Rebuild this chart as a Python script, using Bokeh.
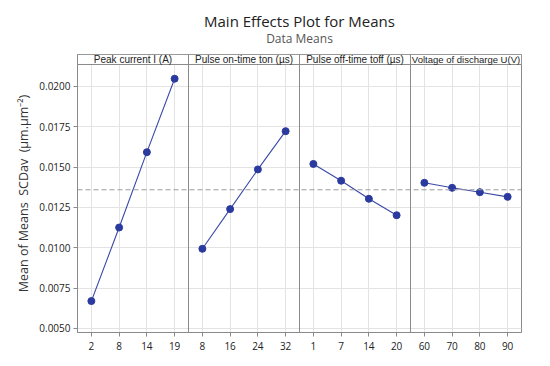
from bokeh.plotting import figure
from bokeh.layouts import column
from bokeh.models import ColumnDataSource, Span, FixedTicker, PrintfTickFormatter, Range1d
from bokeh.core.properties import value
from bokeh.embed import file_html
from bokeh.resources import INLINE

# ---- data ----
title = "Main Effects Plot for Means"
subtitle = "Data Means"
factors = ["Peak current I (A)", "Pulse on-time ton (\u00b5s)", "Pulse off-time toff (\u00b5s)", "Voltage of discharge U(V)"]
peak_levels = ["2", "8", "14", "19"]
peak_means = [0.00670, 0.01126, 0.01593, 0.02048]
ton_levels = ["8", "16", "24", "32"]
ton_means = [0.00994, 0.01240, 0.01486, 0.01723]
toff_levels = ["1", "7", "14", "20"]
toff_means = [0.01520, 0.01416, 0.01304, 0.01202]
volt_levels = ["60", "70", "80", "90"]
volt_means = [0.01403, 0.01372, 0.01345, 0.01316]
y_ticks = [0.0050, 0.0075, 0.0100, 0.0125, 0.0150, 0.0175, 0.0200]

levels = [peak_levels, ton_levels, toff_levels, volt_levels]
means = [peak_means, ton_means, toff_means, volt_means]
header_sizes = ["10px", "10px", "10px", "9.5px"]

all_vals = [v for m in means for v in m]
grand_mean = sum(all_vals) / len(all_vals)

# ---- title strip (its own small figure, SVG text) ----
W = 550
TH = 53
t = figure(width=W, height=TH, output_backend="svg", toolbar_location=None,
           x_range=Range1d(0, W), y_range=Range1d(TH, 0),
           x_axis_type=None, y_axis_type=None,
           min_border=0, min_border_left=0, min_border_right=0, min_border_top=0, min_border_bottom=0)
t.outline_line_color = None
t.xgrid.visible = False
t.ygrid.visible = False
t.text(x=[W / 2], y=[20], text=[title], text_align="center", text_baseline="middle",
       text_font=value("Open Sans"), text_font_size="15px", text_color="#222222")
t.text(x=[W / 2], y=[38], text=[subtitle], text_align="center", text_baseline="middle",
       text_font=value("Open Sans"), text_font_size="12px", text_color="#555555")

# ---- main panel figure ----
n = 4
y_lo, y_hi = 0.004752, 0.021983
header_bottom = 0.021364

p = figure(width=W, height=366 - TH, output_backend="svg", toolbar_location=None,
           x_range=Range1d(-0.5, 4 * n - 0.5), y_range=Range1d(y_lo, y_hi),
           min_border_left=77, min_border_right=29, min_border_top=1, min_border_bottom=34,
           background_fill_color="white", border_fill_color="white")
p.outline_line_color = "#8a8a8a"
p.outline_line_width = 1

p.xgrid.grid_line_color = "#e3e3e3"
p.ygrid.grid_line_color = "#e3e3e3"

xt = []
overrides = {}
for k in range(n):
    for i, lab in enumerate(levels[k]):
        xt.append(4 * k + i)
        overrides[4 * k + i] = lab
p.xaxis.ticker = FixedTicker(ticks=xt)
p.xaxis.major_label_overrides = overrides
p.yaxis.ticker = FixedTicker(ticks=y_ticks)
p.yaxis.formatter = PrintfTickFormatter(format="%.4f")
for ax in (p.xaxis, p.yaxis):
    ax.axis_line_color = "#8a8a8a"
    ax.major_tick_line_color = "#8a8a8a"
    ax.major_tick_in = 0
    ax.major_tick_out = 4
    ax.minor_tick_line_color = None
    ax.major_label_text_font = "Open Sans"
    ax.major_label_text_font_size = "10px"
    ax.major_label_text_color = "#222222"
p.xaxis.major_label_standoff = 5
p.yaxis.major_label_standoff = 3
p.yaxis.axis_label = "Mean of Means\u00a0 SCDav\u00a0 (\u00b5m.\u00b5m\u207b\u00b2)"
p.yaxis.axis_label_text_font = "Open Sans"
p.yaxis.axis_label_text_font_size = "12.5px"
p.yaxis.axis_label_text_font_style = "normal"
p.yaxis.axis_label_text_color = "#333333"
p.yaxis.axis_label_standoff = 4

p.add_layout(Span(location=grand_mean, dimension="width", line_color="#9a9a9a",
                  line_dash="5 3", line_width=1))

for k in range(n):
    xs = [4 * k + i for i in range(len(means[k]))]
    src = ColumnDataSource(dict(x=xs, y=means[k]))
    p.line("x", "y", source=src, line_color="#3a48a6", line_width=1.1)
    p.scatter("x", "y", source=src, size=7, fill_color="#2b3a9e", line_color="#2b3a9e")

hsrc = ColumnDataSource(dict(
    left=[4 * k - 0.5 for k in range(n)],
    right=[4 * k + 3.5 for k in range(n)],
    cx=[4 * k + 1.5 for k in range(n)],
    name=factors,
    fs=header_sizes,
))
p.quad(left="left", right="right", bottom=header_bottom, top=y_hi, source=hsrc,
       fill_color="white", line_color="#8a8a8a", line_width=1)
p.text(x="cx", y=(header_bottom + y_hi) / 2, text="name", source=hsrc,
       text_align="center", text_baseline="middle", text_font=value("Liberation Sans"),
       text_font_size="fs", text_color="#222222")

for k in range(1, n):
    p.add_layout(Span(location=4 * k - 0.5, dimension="height", line_color="#8a8a8a", line_width=1))

layout = column(t, p, spacing=0)
open("out.html", "w").write(file_html(layout, INLINE))
